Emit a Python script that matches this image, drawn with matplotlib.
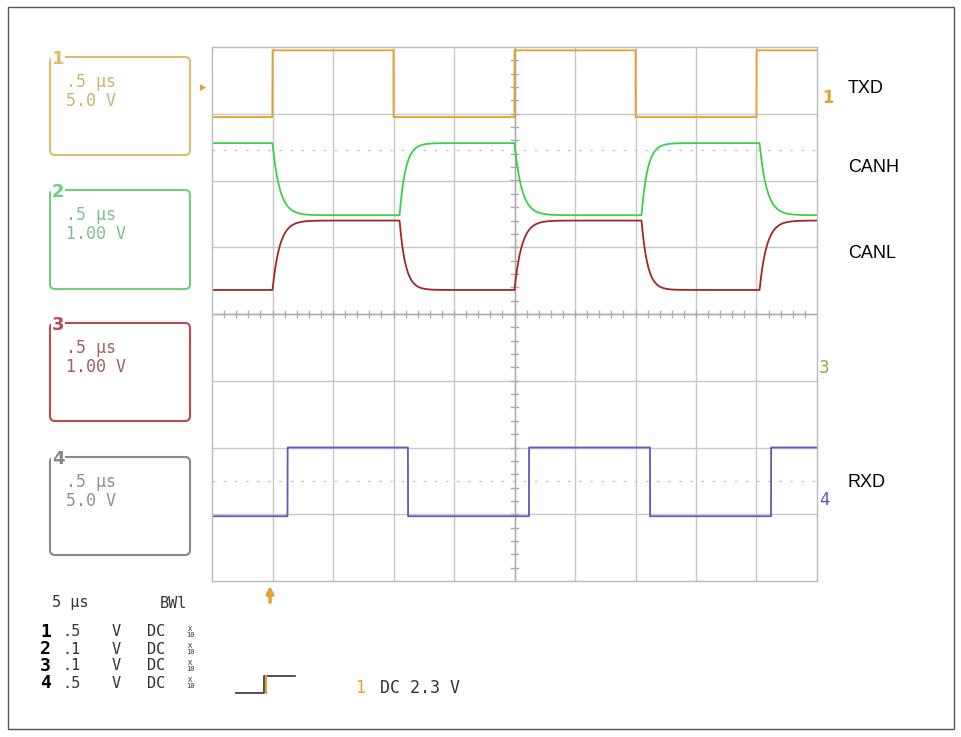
import numpy as np
import matplotlib
matplotlib.use("Agg")
import matplotlib.pyplot as plt
from matplotlib.patches import FancyBboxPatch, Rectangle

# ---- data (in scope divisions: x 0..10, y 0..8) ----
txd_edges = [1.0, 3.0, 5.0, 7.0, 9.0]        # TXD toggles, starts low
txd_levels = (6.95, 7.95)                    # low, high
canh_edges = [1.0, 3.1, 5.0, 7.1, 9.05]      # CANH falls at first edge
canh_levels = (6.56, 5.48)                   # recessive, dominant
canl_edges = [1.0, 3.1, 5.0, 7.1, 9.05]
canl_levels = (4.36, 5.40)
rxd_edges = [1.25, 3.24, 5.24, 7.24, 9.24]
rxd_levels = (0.97, 2.0)

W, H = 962, 737
fig = plt.figure(figsize=(W/100, H/100), dpi=100)
bg = fig.add_axes([0, 0, 1, 1])
bg.set_xlim(0, W); bg.set_ylim(H, 0); bg.axis("off")

L, R, T, B = 212, 817, 47, 581
ax = fig.add_axes([L/W, 1-B/H, (R-L)/W, (B-T)/H])
ax.set_xlim(0, 10); ax.set_ylim(0, 8)
ax.set_xticks([]); ax.set_yticks([])
for s in ax.spines.values():
    s.set_color("#bbbbbb"); s.set_linewidth(1)
for i in range(1, 10):
    ax.axvline(i, color="#c8c8c8", lw=1)
for j in range(1, 8):
    ax.axhline(j, color="#c8c8c8", lw=1)
ax.axvline(5, color="#aaaaaa", lw=1)
ax.axhline(4, color="#aaaaaa", lw=1)
for t in np.arange(0.2, 10, 0.2):
    ax.plot([t, t], [3.95, 4.05], color="#aaaaaa", lw=1)
for t in np.arange(0.2, 8, 0.2):
    ax.plot([4.94, 5.06], [t, t], color="#aaaaaa", lw=1)
ax.axhline(6.45, color="#c8c8c8", lw=1, ls=(0, (2, 6)))
ax.axhline(1.5, color="#c8c8c8", lw=1, ls=(0, (2, 6)))

x = np.linspace(0, 10, 4000)

def square(edges, levels):
    state = np.zeros_like(x, dtype=int)
    for e in edges:
        state ^= (x >= e)
    return np.where(state, levels[1], levels[0])

def expo(edges, levels, tau_a=0.12, tau_b=0.10):
    y = np.full_like(x, levels[0])
    for k, e in enumerate(edges):
        prev = levels[k % 2]
        tgt = levels[(k+1) % 2]
        tau = tau_a if k % 2 == 0 else tau_b
        m = x >= e
        y[m] = tgt + (prev - tgt) * np.exp(-(x[m]-e)/tau)
    return y

ax.plot(x, square(txd_edges, txd_levels), color="#e0a42a", lw=1.3)
ax.plot(x, expo(canh_edges, canh_levels), color="#3ccf4a", lw=1.3)
ax.plot(x, expo(canl_edges, canl_levels), color="#a02828", lw=1.3)
ax.plot(x, square(rxd_edges, rxd_levels), color="#5b5bb8", lw=1.3)

# outer border
bg.add_patch(Rectangle((8, 7), 946, 722, fill=False, ec="#555555", lw=1))
bg.add_patch(Rectangle((212, 55), 60, 18, fc="white", ec="#bbbbbb", lw=0.8))
bg.text(214, 64, "LeCroy", color="#999999", fontsize=8, va="center", family="DejaVu Sans Mono")

boxes = [(57, 155, "#d9bf6a", "#c9b26a", "1", ".5 μs\n5.0 V"),
         (190, 289, "#6fcf7f", "#7fbf8f", "2", ".5 μs\n1.00 V"),
         (323, 421, "#b84a55", "#a06060", "3", ".5 μs\n1.00 V"),
         (457, 555, "#888888", "#909090", "4", ".5 μs\n5.0 V")]
for y0, y1, ec, tc, n, txt in boxes:
    bg.add_patch(FancyBboxPatch((50, y0), 140, y1-y0, boxstyle="round,pad=0,rounding_size=5",
                                fc="white", ec=ec, lw=1.5))
    bg.text(52, y0+2, n, color=ec, fontsize=13, fontweight="bold", va="center", ha="left",
            bbox=dict(fc="white", ec="none", pad=0.5))
    bg.text(66, y0+16, txt, color=tc, fontsize=12, va="top", family="DejaVu Sans Mono", linespacing=1.1)

for lbl, yy in [("TXD", 88), ("CANH", 167), ("CANL", 253), ("RXD", 482)]:
    bg.text(848, yy, lbl, fontsize=13, va="center", ha="left", family="Liberation Sans")

bg.text(822, 98, "1", color="#e0a42a", fontsize=12, fontweight="bold", va="center")
bg.text(819, 368, "3", color="#a0a030", fontsize=12, va="center")
bg.text(819, 500, "4", color="#5b5bb8", fontsize=12, va="center")
bg.text(203, 88, "▸", color="#e0a42a", fontsize=9, va="center", ha="center")
bg.annotate("", xy=(270, 583), xytext=(270, 605),
            arrowprops=dict(arrowstyle="-|>", color="#e0a42a", lw=2.5, mutation_scale=10))

mono = "DejaVu Sans Mono"
bg.text(52, 603, "5 μs", fontsize=11, va="center", family=mono, color="#333333")
bg.text(160, 603, "BWl", fontsize=11, va="center", family=mono, color="#333333")
rows = [("1", ".5"), ("2", ".1"), ("3", ".1"), ("4", ".5")]
for i, (n, v) in enumerate(rows):
    yy = 632 + i*17
    bg.text(40, yy, n, fontsize=13, fontweight="bold", va="center", family=mono)
    bg.text(62, yy, v, fontsize=11, va="center", family=mono, color="#333333")
    bg.text(112, yy, "V", fontsize=11, va="center", family=mono, color="#333333")
    bg.text(147, yy, "DC", fontsize=11, va="center", family=mono, color="#333333")
    bg.text(190, yy, "X\n10", fontsize=5, va="center", ha="center", family=mono, color="#333333", linespacing=0.9)
bg.plot([236, 264, 264, 295], [693, 693, 676, 676], color="#333333", lw=1.2)
bg.plot([266, 266], [676, 693], color="#e0a42a", lw=1.5)
bg.text(355, 688, "1", color="#e0a42a", fontsize=12, va="center", family=mono)
bg.text(380, 688, "DC 2.3 V", fontsize=12, va="center", family=mono, color="#333333")

fig.savefig("out.png", dpi=100)
